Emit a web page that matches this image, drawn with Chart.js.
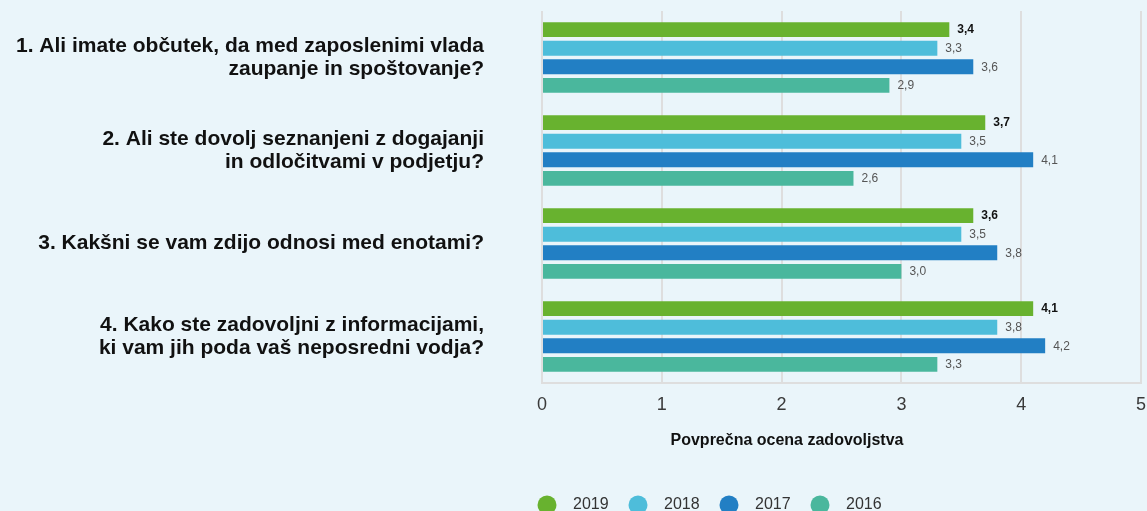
<!DOCTYPE html>
<html>
<head>
<meta charset="utf-8">
<script src="https://cdn.jsdelivr.net/npm/chart.js@4/dist/chart.umd.min.js"></script>
<style>
  html, body { margin: 0; padding: 0; background: #eaf5fa; overflow: hidden; }
  #wrap { width: 1147px; height: 511px; }
</style>
</head>
<body>
<div id="wrap"><canvas id="c" width="1147" height="511"></canvas></div>
<script>
// Survey questions (category axis)
const questions = [
  ['1. Ali imate občutek, da med zaposlenimi vlada', 'zaupanje in spoštovanje?'],
  ['2. Ali ste dovolj seznanjeni z dogajanji', 'in odločitvami v podjetju?'],
  '3. Kakšni se vam zdijo odnosi med enotami?',
  ['4. Kako ste zadovoljni z informacijami,', 'ki vam jih poda vaš neposredni vodja?']
];
// Survey years (series)
const years = ['2019', '2018', '2017', '2016'];
// Average satisfaction score per question, per year
const scores2019 = [3.4, 3.7, 3.6, 4.1];
const scores2018 = [3.3, 3.5, 3.5, 3.8];
const scores2017 = [3.6, 4.1, 3.8, 4.2];
const scores2016 = [2.9, 2.6, 3.0, 3.3];
// Value axis ticks
const xTicks = [0, 1, 2, 3, 4, 5];
const axisTitle = 'Povprečna ocena zadovoljstva';

const colors = ['#68b22f', '#4ebdda', '#227fc4', '#4ab79d'];
const FONT = '"Liberation Sans", Arial, Helvetica, sans-serif';
const series = [scores2019, scores2018, scores2017, scores2016];

// Value labels to the right of each bar; latest year in bold
const valueLabels = {
  id: 'valueLabels',
  afterDatasetsDraw(chart) {
    const ctx = chart.ctx;
    ctx.save();
    ctx.textAlign = 'left';
    ctx.textBaseline = 'middle';
    chart.data.datasets.forEach((ds, i) => {
      const meta = chart.getDatasetMeta(i);
      if (meta.hidden) return;
      ctx.font = (i === 0 ? 'bold ' : '') + '12px ' + FONT;
      ctx.fillStyle = i === 0 ? '#111111' : '#555555';
      meta.data.forEach((bar, j) => {
        const txt = ds.data[j].toFixed(1).replace('.', ',');
        ctx.fillText(txt, bar.x + 8, bar.y + 0.5);
      });
    });
    ctx.restore();
  }
};

// Axis title and circular legend below the plot
const footer = {
  id: 'footer',
  afterDraw(chart, args, opts) {
    const ctx = chart.ctx;
    ctx.save();
    ctx.font = 'bold 16px ' + FONT;
    ctx.fillStyle = '#111111';
    ctx.textAlign = 'center';
    ctx.textBaseline = 'middle';
    ctx.fillText(axisTitle, opts.titleX, opts.titleY);

    ctx.font = '16px ' + FONT;
    ctx.textAlign = 'left';
    chart.data.datasets.forEach((ds, i) => {
      const cx = opts.legendX + i * opts.legendStep;
      ctx.beginPath();
      ctx.fillStyle = ds.backgroundColor;
      ctx.arc(cx, opts.legendY, 9.5, 0, Math.PI * 2);
      ctx.fill();
      ctx.fillStyle = '#333333';
      ctx.fillText(ds.label, cx + 26, opts.legendY);
    });
    ctx.restore();
  }
};

new Chart(document.getElementById('c'), {
  type: 'bar',
  data: {
    labels: questions,
    datasets: years.map((y, i) => ({
      label: y,
      data: series[i],
      backgroundColor: colors[i],
      borderWidth: 0,
      categoryPercentage: 0.8,
      barPercentage: 0.8
    }))
  },
  options: {
    indexAxis: 'y',
    responsive: false,
    animation: false,
    layout: { padding: { top: 11, right: 6, bottom: 0, left: 0 } },
    plugins: {
      legend: { display: false },
      tooltip: { enabled: false },
      footer: { titleX: 787, titleY: 441, legendX: 547, legendY: 505, legendStep: 91 }
    },
    scales: {
      x: {
        min: 0,
        max: 5,
        afterBuildTicks: s => { s.ticks = xTicks.map(v => ({ value: v })); },
        afterFit: s => { s.height = 128; s.paddingLeft = 0; s.paddingRight = 0; },
        grid: { color: '#dedede', lineWidth: 2, drawTicks: false },
        border: { display: true, color: '#dedede', width: 2 },
        ticks: {
          padding: 11,
          color: '#3a3a3a',
          font: { family: FONT, size: 18 },
          callback: v => String(v)
        }
      },
      y: {
        afterFit: s => { s.width = 542; s.paddingTop = 0; s.paddingBottom = 0; },
        grid: { display: false, drawTicks: false },
        border: { display: false },
        ticks: {
          padding: 58,
          color: '#111111',
          font: { family: FONT, size: 21, weight: 'bold', lineHeight: 1.07 }
        }
      }
    }
  },
  plugins: [valueLabels, footer]
});
</script>
</body>
</html>
